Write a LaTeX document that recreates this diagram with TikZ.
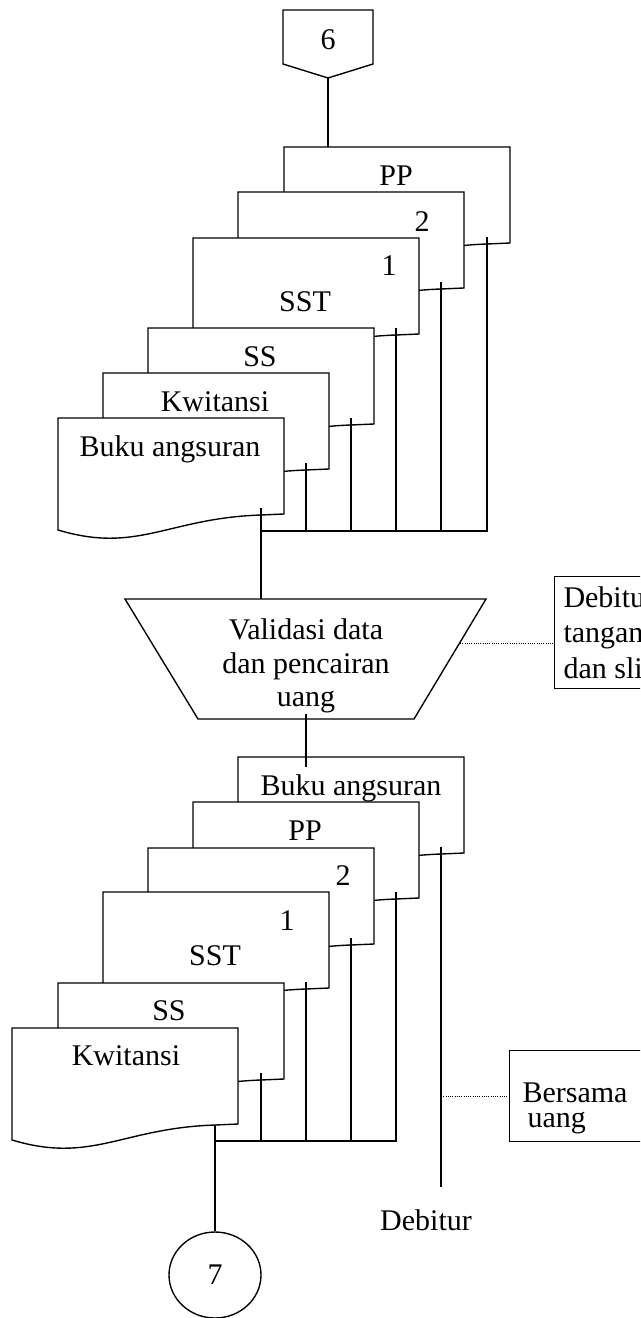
\documentclass[tikz,border=0pt]{standalone}
\usepackage{fontspec}
\setmainfont{Liberation Serif}
\usetikzlibrary{shapes.geometric}

\tikzset{
  dok/.style={draw, fill=white, line width=0.55pt},
  garis/.style={line width=0.45pt},
  titik/.style={line width=0.4pt, dash pattern=on 0.4pt off 0.5pt},
  teks/.style={font=\fontsize{12}{13.4}\selectfont, inner sep=0pt, anchor=base},
}

% dokumen: nama, x, y (pojok kiri atas)
\newcommand{\dokumen}[3]{%
  \draw[dok] (#2,#3) coordinate (#1) -- ++(226,0) -- ++(0,96) -- ++(-23,1)
    .. controls +(-93,3) and +(80,24) .. ++(-203,15) -- cycle;
  \coordinate (#1-l) at (#2+203,#3+90);
}

\begin{document}
\begin{tikzpicture}[x=0.4pt,y=-0.4pt]
  \useasboundingbox (0,0) rectangle (640,1318);
  \clip (0,0) rectangle (640,1318);

  % penghubung halaman 6
  \draw[dok] (283,10) -- (373,10) -- (373,64) -- (328,78) coordinate (enam-s) -- (283,64) -- cycle;
  \node[teks] (enam) at (328,50) {6};

  % dokumen masuk
  \dokumen{pp1}{284}{147}
  \dokumen{dua1}{238}{192}
  \dokumen{satu1}{193}{238}
  \dokumen{ss1}{148}{328}
  \dokumen{kw1}{103}{373}
  \dokumen{bk1}{58}{418}
  \node[teks] (pp1-t) at (396,186) {PP};
  \node[teks] (dua1-t) at (422,231) {2};
  \node[teks] (satu1-t) at (389,276) {1};
  \node[teks] (sst1-t) at (305,311) {SST};
  \node[teks] (ss1-t) at (260,366) {SS};
  \node[teks] (kw1-t) at (215,411) {Kwitansi};
  \node[teks] (bk1-t) at (170,456) {Buku angsuran};

  \coordinate (gabung1) at (261,531);
  \draw[garis] (enam-s) -- (enam-s |- pp1);
  \draw[garis] (pp1-l) -- (pp1-l |- gabung1) -- (gabung1);
  \draw[garis] (dua1-l) -- (dua1-l |- gabung1);
  \draw[garis] (satu1-l) -- (satu1-l |- gabung1);
  \draw[garis] (ss1-l) -- (ss1-l |- gabung1);
  \draw[garis] (kw1-l) -- (kw1-l |- gabung1);

  % proses manual
  \draw[dok] (125,599) coordinate (trap-a) -- (486,599) coordinate (trap-b)
    -- (414,719) coordinate (trap-c) -- (198,719) coordinate (trap-d) -- cycle;
  \coordinate (trap-r) at (460,643);
  \node[font=\fontsize{12}{13.4}\selectfont, align=center, inner sep=0pt] (validasi) at (306,666)
    {Validasi data\\dan pencairan\\uang};
  \draw[garis] (bk1-l) -- (bk1-l |- trap-a);

  \node[draw, line width=0.55pt, minimum width=80pt, minimum height=44.8pt,
    anchor=north west, inner sep=0pt] (ttd) at (554,576) {};
  \node[teks, anchor=base west] (ttd-1) at (563,607) {Debitur};
  \node[teks, anchor=base west] (ttd-2) at (563,642) {tangan};
  \node[teks, anchor=base west] (ttd-3) at (563,678) {dan slip};
  \draw[titik] (trap-r) -- (trap-r -| ttd.west);

  % dokumen keluar
  \dokumen{bk2}{238}{757}
  \dokumen{pp2}{193}{802}
  \dokumen{dua2}{148}{848}
  \dokumen{satu2}{103}{892}
  \dokumen{ss2}{58}{983}
  \dokumen{kw2}{12}{1028}
  \node[teks] (bk2-t) at (351,795) {Buku angsuran};
  \node[teks] (pp2-t) at (305,840) {PP};
  \node[teks] (dua2-t) at (343,885) {2};
  \node[teks] (satu2-t) at (287,930) {1};
  \node[teks] (sst2-t) at (215,965) {SST};
  \node[teks] (ss2-t) at (169,1020) {SS};
  \node[teks] (kw2-t) at (126,1065) {Kwitansi};

  \coordinate (bk2-m) at (306,767);
  \draw[garis] (validasi.south) -- (bk2-m);

  \coordinate (gabung2) at (215,1141);
  \coordinate (kw2-b) at (215,1125);
  \draw[garis] (pp2-l) -- (pp2-l |- gabung2) -- (gabung2);
  \draw[garis] (dua2-l) -- (dua2-l |- gabung2);
  \draw[garis] (satu2-l) -- (satu2-l |- gabung2);
  \draw[garis] (ss2-l) -- (ss2-l |- gabung2);

  \node[draw, ellipse, line width=0.55pt, minimum width=36.8pt, minimum height=34.4pt,
    inner sep=0pt, font=\fontsize{12}{13.4}\selectfont] (tujuh) at (215,1275) {7};
  \draw[garis] (kw2-b) -- (tujuh.north);

  \coordinate (debitur-u) at (441,1187);
  \draw[garis] (bk2-l) -- (debitur-u);
  \node[teks] (debitur) at (426,1230) {Debitur};

  \node[draw, line width=0.55pt, minimum width=60pt, minimum height=36.4pt,
    anchor=north west, inner sep=0pt] (bersama) at (509,1050) {};
  \node[teks, anchor=base west] (bersama-1) at (522,1102) {Bersama};
  \node[teks, anchor=base west] (bersama-2) at (527,1127) {uang};
  \draw[titik] (bk2-l |- bersama.west) -- (bersama.west);
\end{tikzpicture}
\end{document}
